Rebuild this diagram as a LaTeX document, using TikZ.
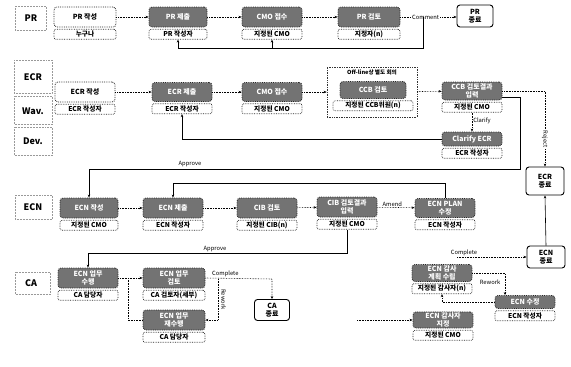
\documentclass[tikz,border=0pt]{standalone}
\usepackage{fontspec}
\setmainfont{Noto Sans CJK KR}
\usetikzlibrary{arrows.meta,calc}
\tikzset{
  boxbase/.style={draw=black!85, densely dotted, line width=0.8pt, rounded corners=3pt, align=center, inner sep=1pt, font=\fontsize{7}{7.6}\selectfont\bfseries},
  topg/.style={boxbase, fill=black!55, text=white},
  topw/.style={boxbase, fill=white, text=black},
  bot/.style={draw=black!85, densely dotted, line width=0.7pt, rounded corners=2pt, fill=white, inner sep=0.5pt, minimum height=10pt, font=\fontsize{6.7}{7}\selectfont\bfseries},
  term/.style={draw=black, line width=0.9pt, rounded corners=3pt, align=center, inner sep=1pt, font=\fontsize{7}{7.8}\selectfont\bfseries},
  flow/.style={densely dotted, line width=0.6pt, -{Stealth[length=3pt,width=2.5pt]}},
  back/.style={line width=0.6pt, -{Stealth[length=3pt,width=2.5pt]}},
  lbl/.style={font=\fontsize{5.8}{6.2}\selectfont, inner sep=1pt},
  lane/.style={draw=gray!80, densely dotted, line width=0.5pt},
  lanetxt/.style={font=\fontsize{9}{10}\selectfont\bfseries}
}
\newcommand\stg[8]{%
  \node[#1, minimum width=#5, minimum height=#6] (#2) at (#3,#4) {#7};
  \node[bot, minimum width=#5, anchor=north] (#2b) at ([yshift=-1.5pt]#2.south) {#8};}
\begin{document}
\begin{tikzpicture}[x=1pt,y=-1pt]
\useasboundingbox (0,0) rectangle (571,367);
% lanes
\draw[lane] (15,6) rectangle (46,30);
\node[lanetxt] (lpr) at (31,18) {PR};
\draw[lane] (14,60) rectangle (52,93);
\node[lanetxt] (lecr) at (33,77) {ECR};
\draw[lane] (14,96) rectangle (52,124);
\node[lanetxt] (lwav) at (33,111) {Wav.};
\draw[lane] (14,127) rectangle (52,155);
\node[lanetxt] (ldev) at (33,141) {Dev.};
\draw[lane] (15,195) rectangle (52,219);
\node[lanetxt] (lecn) at (33,207) {ECN};
\draw[lane] (15,272) rectangle (50,294);
\node[lanetxt] (lca) at (31,283) {CA};
% PR row
\stg{topw}{p1}{85}{17}{62pt}{20pt}{PR 작성}{누구나}
\stg{topg}{p2}{178}{17}{58pt}{20pt}{PR 제출}{PR 작성자}
\stg{topg}{p3}{272}{17}{60pt}{20pt}{CMO 접수}{지정된 CMO}
\stg{topg}{p4}{369}{17}{62pt}{20pt}{PR 검토}{지정자(n)}
\node[term, minimum width=36pt, minimum height=22pt] (prend) at (475,16) {PR\\종료};
% ECR row
\stg{topw}{e1}{85}{92}{60pt}{20pt}{ECR 작성}{ECR 작성자}
\stg{topg}{e2}{182}{92}{60pt}{19pt}{ECR 제출}{ECR 작성자}
\stg{topg}{e3}{272}{92}{60pt}{19pt}{CMO 접수}{지정된 CMO}
\node[draw=black!80, densely dotted, line width=0.7pt, minimum width=90pt, minimum height=50pt] (frame) at (372,92) {};
\node[font=\fontsize{5.6}{6}\selectfont\bfseries, inner sep=0pt] (frt) at (372,72) {Off-line상 별도 회의};
\node[topg, minimum width=66pt, minimum height=17pt] (e4) at (373,90) {CCB 검토};
\node[bot, minimum width=80pt, anchor=north] (e4b) at ([yshift=-1.5pt]e4.south) {지정된 CCB위원(n)};
\stg{topg}{e5}{472}{91}{60pt}{18pt}{CCB 검토결과\\입력}{지정된 CMO}
\stg{topg}{e6}{472}{139}{60pt}{14pt}{Clarify ECR}{ECR 작성자}
\node[term, minimum width=38pt, minimum height=28pt] (ecrend) at (545,181) {ECR\\종료};
% ECN row
\stg{topg}{n1}{89}{208}{58pt}{20pt}{ECN 작성}{지정된 CMO}
\stg{topg}{n2}{173}{208}{60pt}{20pt}{ECN 제출}{ECN 작성자}
\stg{topg}{n3}{267}{208}{60pt}{20pt}{CIB 검토}{지정된 CIB(n)}
\stg{topg}{n4}{347}{207}{60pt}{20pt}{CIB 검토결과\\입력}{지정된 CMO}
\stg{topg}{n5}{445}{208}{60pt}{19pt}{ECN PLAN\\수정}{ECN 작성자}
\node[term, minimum width=38pt, minimum height=22pt] (ecnend) at (546,257) {ECN\\종료};
% CA row
\stg{topg}{c1}{88}{278}{60pt}{20pt}{ECN 업무\\수행}{CA 담당자}
\stg{topg}{c2}{174}{278}{62pt}{20pt}{ECN 업무\\검토}{CA 검토자(세부)}
\stg{topg}{c3}{174}{320}{62pt}{20pt}{ECN 업무\\재수행}{CA 담당자}
\node[term, minimum width=35pt, minimum height=21pt] (caend) at (272,310) {CA\\종료};
% audit
\stg{topg}{a1}{442}{273}{60pt}{17pt}{ECN 감사\\계획 수립}{지정된 감사자(n)}
\stg{topg}{a2}{443}{320}{60pt}{16pt}{ECN 감사자\\지정}{지정된 CMO}
\stg{topg}{a3}{525}{302}{60pt}{13pt}{ECN 수정}{ECN 작성자}
% labels
\node[lbl] (apl1) at (190,164) {Approve};
\node[lbl] (apl2) at (215,249) {Approve};
\node[lbl] (rwl2) at (490,282) {Rework};
% PR connectors
\draw[flow] (p1) -- (p2);
\draw[flow] (p2) -- (p3);
\draw[flow] (p3) -- (p4);
\draw[flow] (p4.east) -- node[lbl, fill=white, pos=0.45]{Comment} (p4.east -| prend.west);
\coordinate (pf1) at (423,17);
\coordinate (pf2) at (423,48);
\draw[back] (pf1) -- (pf2) -| (p2b.south);
\draw[back] (p3b.south |- pf2) -- (p3b.south);
% ECR connectors
\draw[flow] (e1) -- (e2);
\draw[flow] (e2) -- (e3);
\draw[flow] (e3) -- (frame);
\draw[flow] (frame) -- (e5);
\draw[flow] (e5.east) -| node[lbl, fill=white, rotate=-90, pos=0.82]{Reject} (ecrend.north);
\draw[flow] (e5b.south) -- node[lbl, right, pos=0.45]{Clarify} (e6.north);
\draw[back] (e6.west) -| (e2b.south);
\coordinate (ap1) at (520,169);
\draw[back] ([yshift=-6pt]e5.east) -| (ap1) -| (n1.north);
% ECN connectors
\draw[flow] (n1) -- (n2);
\draw[flow] (n2) -- (n3);
\draw[flow] (n3) -- (n4);
\draw[flow] (n4) -- node[lbl, above, pos=0.4]{Amend} (n5);
\coordinate (am) at (445,183);
\draw[back] (n5.north) -- (am) -| (n2.north);
\coordinate (ap2) at (347,253);
\draw[back] (n4b.south) -- (ap2) -| (c1.north);
\draw[back] (ecnend.north) -- (ecrend.south);
% CA connectors
\draw[flow] (c1) -- (c2);
\coordinate (cj) at (128,278);
\draw[densely dotted, line width=0.6pt] (c3.west) -| (cj);
\coordinate (cc) at (272,279);
\draw[flow] (c2.east) -- node[lbl, above, pos=0.3]{Complete} (cc) -- (caend.north);
\coordinate (rw1) at (218,279);
\coordinate (rw2) at (218,320);
\draw[flow] (rw1) -- node[lbl, rotate=-90, anchor=south, xshift=0pt, yshift=2pt]{Rework} (rw2) -- (c3.east);
% audit connectors
\coordinate (cs) at (357,320);
\draw[flow] (cs) -- (a2.west);
\coordinate (cp) at (457,257);
\draw[flow] (cp) -- node[lbl, above, pos=0.1]{Complete} (ecnend.west);
\coordinate (rw3) at (505,273);
\draw[flow] (a1.east) -- (rw3) -- (rw3 |- a3.north);
\draw[flow] (a3.west) -| (a1b.south);
\end{tikzpicture}
\end{document}
